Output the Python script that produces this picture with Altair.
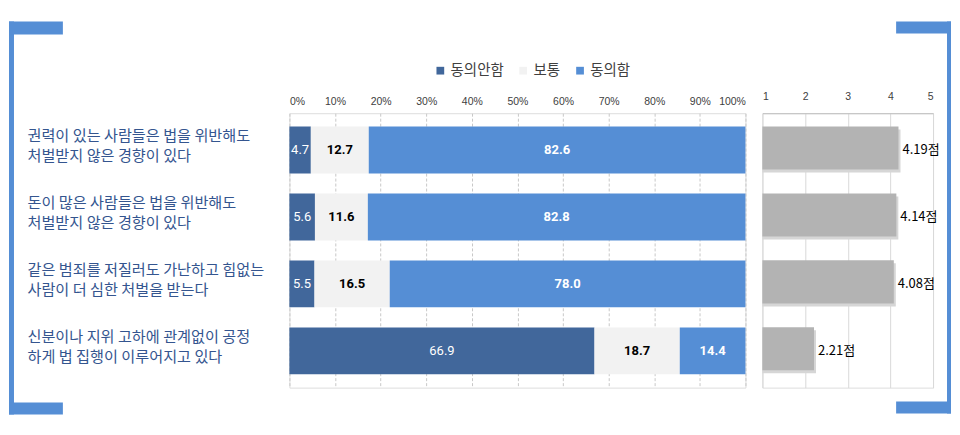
import altair as alt
import pandas as pd

categories = [
    "권력이 있는 사람들은 법을 위반해도|처벌받지 않은 경향이 있다",
    "돈이 많은 사람들은 법을 위반해도|처벌받지 않은 경향이 있다",
    "같은 범죄를 저질러도 가난하고 힘없는|사람이 더 심한 처벌을 받는다",
    "신분이나  지위 고하에 관계없이 공정|하게 법 집행이 이루어지고 있다",
]
responses = ["동의안함", "보통", "동의함"]
disagree = [4.7, 5.6, 5.5, 66.9]
neutral = [12.7, 11.6, 16.5, 18.7]
agree = [82.6, 82.8, 78.0, 14.4]
scores = [4.19, 4.14, 4.08, 2.21]
pct_ticks = [0, 10, 20, 30, 40, 50, 60, 70, 80, 90, 100]
score_ticks = [1, 2, 3, 4, 5]

colors = ["#41679B", "#F2F2F2", "#558ED5"]
bracket_color = "#558ED5"
kr_font = "Noto Sans CJK KR"

rows = []
for i, c in enumerate(categories):
    for j, (r, vals) in enumerate(zip(responses, [disagree, neutral, agree])):
        rows.append({"cat": c, "resp": r, "value": vals[i], "ord": j})
df = pd.DataFrame(rows)
df2 = pd.DataFrame({"cat": categories, "score": scores})
deco = pd.DataFrame({"k": [0]})

yscale = alt.Scale(paddingInner=0.3, paddingOuter=0.2)
W1, W2, H = 457, 171, 275

base = alt.Chart(df).encode(
    y=alt.Y("cat:N", sort=categories, scale=yscale, title=None,
            axis=alt.Axis(labelExpr="split(datum.label, '|')", labelAlign="left",
                          labelPadding=263, ticks=False, tickSize=0, domain=False,
                          labelFont=kr_font, labelFontSize=15.2, labelColor="#34558F",
                          labelLineHeight=20, labelOffset=-14, labelLimit=400,
                          labelBaseline="middle"))
)

bars = base.mark_bar().encode(
    x=alt.X("value:Q", stack="zero", scale=alt.Scale(domain=[0, 100]), title=None,
            axis=alt.Axis(orient="top", values=pct_ticks, labelExpr="datum.value + '%'",
                          grid=True, gridDash=[3, 2], gridColor="#c8c8c8", domain=False,
                          ticks=False, labelPadding=7, labelFontSize=10.5,
                          labelFont="Liberation Sans", labelColor="#404040")),
    color=alt.Color("resp:N", scale=alt.Scale(domain=responses, range=colors),
                    legend=alt.Legend(orient="none", legendX=144, legendY=-50,
                                      direction="horizontal", title=None,
                                      symbolType="square", symbolSize=60,
                                      symbolStrokeWidth=0, labelFont=kr_font,
                                      labelFontSize=14.5, labelColor="#404040",
                                      columnPadding=12, labelOffset=3)),
    order=alt.Order("ord:Q"),
)

tbase = base.transform_window(
    cum="sum(value)", frame=[None, 0], sort=[alt.SortField("ord")], groupby=["cat"]
).transform_calculate(mid="datum.cum - datum.value / 2").encode(
    x=alt.X("mid:Q"), text=alt.Text("value:Q", format=".1f")
)
t1 = tbase.transform_filter("datum.resp == '동의안함'").mark_text(
    color="white", fontSize=13, font="Roboto")
t2 = tbase.transform_filter("datum.resp == '보통'").mark_text(
    color="black", fontSize=13, font="Roboto", fontWeight="bold")
t3 = tbase.transform_filter("datum.resp == '동의함'").mark_text(
    color="white", fontSize=13, font="Roboto", fontWeight="bold")

def rect(x1, x2, y1, y2):
    return alt.Chart(deco).mark_rect(color=bracket_color).encode(
        x=alt.value(x1), x2=alt.value(x2), y=alt.value(y1), y2=alt.value(y2))

left_br = rect(-281, -276, -92, 302) + rect(-281, -227, -92, -79) + rect(-281, -227, 290, 302)

left = alt.layer(bars, t1, t2, t3, left_br).properties(width=W1, height=H)

sbase = alt.Chart(df2).encode(
    y=alt.Y("cat:N", sort=categories, scale=yscale, axis=None, title=None)
)
sx = alt.X("score:Q", scale=alt.Scale(domain=[1, 5]), title=None,
           axis=alt.Axis(orient="top", values=score_ticks, format="d", grid=True,
                         gridColor="#d9d9d9", domainColor="#bfbfbf", ticks=False,
                         labelPadding=12, labelFontSize=10.5, labelFont="Liberation Sans",
                         labelColor="#404040"))
shadow = sbase.mark_bar(color="#d6d6d6", xOffset=2, yOffset=1,
                        height=alt.RelativeBandSize(0.92)).encode(x=sx, x2=alt.X2(datum=1))
sbars = sbase.mark_bar(color="#B3B3B3", yOffset=-2,
                       height=alt.RelativeBandSize(0.92)).encode(x=sx, x2=alt.X2(datum=1))
stext = sbase.transform_calculate(lbl="format(datum.score, '.2f') + '점'").mark_text(
    align="left", dx=4, fontSize=13, font=kr_font, color="black"
).encode(x=alt.X("score:Q"), text="lbl:N")

right_br = rect(185, 189, -92, 301) + rect(134, 189, -92, -80) + rect(134, 189, 289, 301)

right = alt.layer(shadow, sbars, stext, right_br).properties(width=W2, height=H)

chart = alt.hconcat(left, right, spacing=17, bounds="flush").properties(
    padding={"top": 12, "left": 0, "right": 0, "bottom": 0}
).configure_view(stroke=None).configure(background="white")

chart.save("out.html", embed_options={"renderer": "svg", "actions": False})
